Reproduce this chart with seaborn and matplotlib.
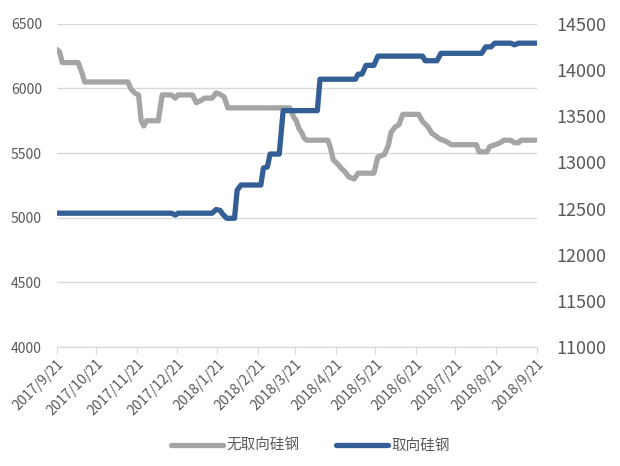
import matplotlib
matplotlib.use("Agg")
import matplotlib.pyplot as plt
import pandas as pd
import seaborn as sns

# 无取向硅钢 (left axis)
gray_dates = ["2017-09-21", "2017-09-23", "2017-09-25", "2017-10-07", "2017-10-10", "2017-10-12",
              "2017-11-14", "2017-11-16", "2017-11-19", "2017-11-22", "2017-11-24", "2017-11-26",
              "2017-11-28", "2017-12-07", "2017-12-10", "2017-12-17", "2017-12-20", "2017-12-22",
              "2018-01-02", "2018-01-05", "2018-01-09", "2018-01-11", "2018-01-17", "2018-01-20",
              "2018-01-23", "2018-01-26", "2018-01-29", "2018-03-17", "2018-03-20", "2018-03-22",
              "2018-03-24", "2018-03-26", "2018-03-28", "2018-03-30", "2018-04-15", "2018-04-17",
              "2018-04-19", "2018-04-22", "2018-04-25", "2018-04-28", "2018-05-01", "2018-05-05",
              "2018-05-08", "2018-05-20", "2018-05-23", "2018-05-28", "2018-05-31", "2018-06-02",
              "2018-06-05", "2018-06-08", "2018-06-11", "2018-06-23", "2018-06-26", "2018-06-30",
              "2018-07-03", "2018-07-09", "2018-07-14", "2018-07-18", "2018-08-06", "2018-08-08",
              "2018-08-14", "2018-08-16", "2018-08-23", "2018-08-27", "2018-09-01", "2018-09-04",
              "2018-09-07", "2018-09-09", "2018-09-21"]
gray_values = [6300, 6280, 6200, 6200, 6120, 6050,
               6050, 6000, 5965, 5950, 5750, 5710,
               5750, 5750, 5950, 5950, 5925, 5950,
               5950, 5890, 5910, 5925, 5925, 5965,
               5955, 5935, 5850, 5850, 5780, 5750,
               5690, 5660, 5615, 5600, 5600, 5540,
               5450, 5420, 5385, 5355, 5315, 5300,
               5345, 5345, 5470, 5490, 5560, 5660,
               5700, 5720, 5800, 5800, 5745, 5705,
               5655, 5610, 5590, 5565, 5565, 5510,
               5510, 5550, 5575, 5600, 5600, 5580,
               5580, 5600, 5600]

# 取向硅钢 (right axis)
blue_dates = ["2017-09-21", "2017-12-17", "2017-12-20", "2017-12-22", "2018-01-17", "2018-01-20",
              "2018-01-23", "2018-01-25", "2018-01-28", "2018-02-03", "2018-02-05", "2018-02-08",
              "2018-02-23", "2018-02-25", "2018-02-28", "2018-03-02", "2018-03-09", "2018-03-12",
              "2018-04-07", "2018-04-09", "2018-05-06", "2018-05-08", "2018-05-11", "2018-05-14",
              "2018-05-20", "2018-05-23", "2018-06-26", "2018-06-28", "2018-07-07", "2018-07-10",
              "2018-08-10", "2018-08-13", "2018-08-17", "2018-08-20", "2018-09-01", "2018-09-04",
              "2018-09-07", "2018-09-21"]
blue_values = [12450, 12450, 12430, 12450, 12450, 12490,
               12480, 12440, 12395, 12395, 12700, 12755,
               12755, 12940, 12950, 13090, 13090, 13560,
               13560, 13900, 13900, 13955, 13955, 14050,
               14050, 14150, 14150, 14100, 14100, 14180,
               14180, 14250, 14250, 14290, 14290, 14272,
               14290, 14290]

tick_dates = ["2017-09-21", "2017-10-21", "2017-11-21", "2017-12-21", "2018-01-21", "2018-02-21",
              "2018-03-21", "2018-04-21", "2018-05-21", "2018-06-21", "2018-07-21", "2018-08-21",
              "2018-09-21"]
tick_labels = ["2017/9/21", "2017/10/21", "2017/11/21", "2017/12/21", "2018/1/21", "2018/2/21",
               "2018/3/21", "2018/4/21", "2018/5/21", "2018/6/21", "2018/7/21", "2018/8/21",
               "2018/9/21"]

gray_df = pd.DataFrame({"date": pd.to_datetime(gray_dates), "value": gray_values})
blue_df = pd.DataFrame({"date": pd.to_datetime(blue_dates), "value": blue_values})

sns.set_style("white")
plt.rcParams['font.family'] = ['Noto Sans CJK SC', 'DejaVu Sans']

gray_c = "#A5A5A5"
blue_c = "#335E96"
text_c = "#595959"

fig = plt.figure(figsize=(6.2, 4.66), dpi=100)
ax = fig.add_axes([0.092, 0.255, 0.774, 0.694])
ax2 = ax.twinx()

sns.lineplot(data=gray_df, x="date", y="value", ax=ax, color=gray_c, lw=3.8,
             label="无取向硅钢", legend=False, solid_joinstyle="round", solid_capstyle="round")
sns.lineplot(data=blue_df, x="date", y="value", ax=ax2, color=blue_c, lw=3.8,
             label="取向硅钢", legend=False, solid_joinstyle="round", solid_capstyle="round")

ax.set_ylim(4000, 6500)
ax.set_yticks(range(4000, 6501, 500))
ax2.set_ylim(11000, 14500)
ax2.set_yticks(range(11000, 14501, 500))
ax.set_xlim(pd.Timestamp("2017-09-21"), pd.Timestamp("2018-09-21"))
ax.set_xticks(pd.to_datetime(tick_dates))
ax.set_xticklabels(tick_labels, rotation=45, ha="right", rotation_mode="anchor",
                   fontsize=10, color=text_c)

ax.grid(axis="y", color="#D9D9D9", lw=1)
ax.set_xlabel("")
ax.set_ylabel("")
ax2.set_ylabel("")
for a in (ax, ax2):
    for s in a.spines.values():
        s.set_visible(False)
ax.spines["bottom"].set_visible(True)
ax.spines["bottom"].set_color("#D9D9D9")
ax.tick_params(axis="x", length=5, color="#D9D9D9", bottom=True, pad=2)
ax.tick_params(axis="y", length=0, labelsize=10, labelcolor=text_c, pad=11)
ax2.tick_params(axis="y", length=0, labelsize=13, labelcolor=text_c, pad=14)
ax.set_axisbelow(True)

handles = ax.get_lines()[:1] + ax2.get_lines()[:1]
fig.legend(handles, ["无取向硅钢", "取向硅钢"], loc="lower center", ncol=2,
           bbox_to_anchor=(0.5, 0.0), frameon=False, fontsize=10.5, labelcolor=text_c,
           handlelength=3.6, columnspacing=2.5, handletextpad=0.2)

fig.savefig("out.png", dpi=100)
